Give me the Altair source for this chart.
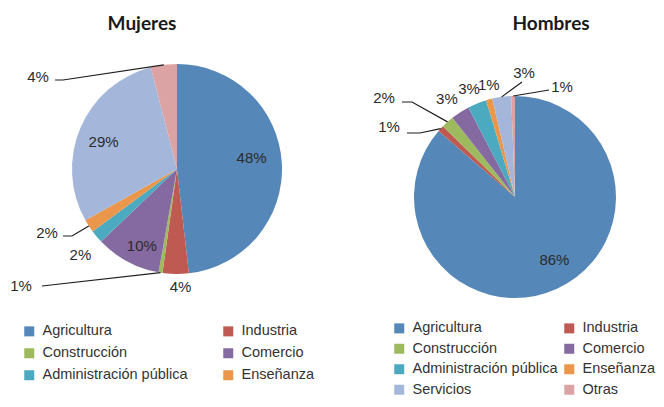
import math
import altair as alt
import pandas as pd

# ---------------- data ----------------
categories = ["Agricultura", "Industria", "Construcción", "Comercio",
              "Administración pública", "Enseñanza", "Servicios", "Otras"]
mujeres = [48, 4, 0.6, 10, 2, 2, 29, 4]
hombres = [86, 1, 2, 3, 3, 1, 3, 0.6]
titles = ["Mujeres", "Hombres"]
legend_mujeres = categories[:6]
legend_hombres = categories

colors = ["#5587B8", "#BE5A51", "#9DBB5E", "#8569A1",
          "#4BA9C0", "#EA974B", "#A4B7DA", "#DBA3A3"]

# ---------------- layout (pixels, chart space) ----------------
W, H = 648, 391
pies = {
    "Mujeres": dict(values=mujeres, cx=169, cy=161, R=105),
    "Hombres": dict(values=hombres, cx=507, cy=189, R=101),
}
# label placement per slice: ("r", radius factor, nudge x, nudge y)
# or ("p", label dx, label dy, [leader points relative to center])
label_layout = {
    "Mujeres": [
        ("r", 0.74, -3, -7),
        ("r", 1.12, 5, 0),
        ("p", -156, 117, [(-135, 117)]),
        ("r", 0.83, 6, 0),
        ("r", 1.24, 3, 2),
        ("p", -130, 64, [(-105, 67), (-114, 67)]),
        ("r", 0.76, 0, 4),
        ("p", -139, -92, [(-114, -89), (-122, -89)]),
    ],
    "Hombres": [
        ("r", 0.70, 10, -1),
        ("p", -126, -70, [(-95, -64), (-108, -64)]),
        ("p", -131, -99, [(-103, -95), (-113, -95)]),
        ("r", 1.15, -5, 0),
        ("r", 1.16, -2, 1),
        ("r", 1.17, 4, 2),
        ("p", 9, -124, [(7, -115)]),
        ("p", 47, -110, [(34, -107)]),
    ],
}
title_pos = {"Mujeres": (134, 22), "Hombres": (543, 22)}

FONT = "Liberation Sans"
TXT = "#2b2b2b"

color_scale = alt.Scale(domain=categories, range=colors)

layers = []
label_rows = []
leader_rows = []
legend_cfg = {
    "Mujeres": dict(values=legend_mujeres, x=14, y=316, colpad=33, rowpad=7),
    "Hombres": dict(values=legend_hombres, x=384, y=313, colpad=4, rowpad=5.5),
}

for name, p in pies.items():
    vals = p["values"]
    total = sum(vals)
    df = pd.DataFrame({"cat": categories, "v": vals, "idx": range(len(vals))})
    lc = legend_cfg[name]
    arc = alt.Chart(df).mark_arc(outerRadius=p["R"], stroke=None).encode(
        theta=alt.Theta("v:Q", stack=True),
        color=alt.Color(
            "cat:N", scale=color_scale, sort=categories,
            legend=alt.Legend(
                values=lc["values"], orient="none", legendX=lc["x"], legendY=lc["y"],
                direction="horizontal", columns=2, title=None,
                symbolType="square", symbolSize=100,
                symbolStrokeWidth=0, labelFont=FONT, labelFontSize=14.5,
                labelColor="#333333", labelOffset=6, labelLimit=300,
                columnPadding=lc["colpad"], rowPadding=lc["rowpad"], padding=0,
            ),
        ),
        order=alt.Order("idx:Q"),
        x=alt.value(p["cx"]),
        y=alt.value(p["cy"]),
    )
    layers.append(arc)

    cum = 0.0
    for i, v in enumerate(vals):
        mid = (cum + v / 2) / total * 2 * math.pi
        cum += v
        sx, sy = math.sin(mid), -math.cos(mid)
        lay = label_layout[name][i]
        text = f"{round(v)}%"
        if lay[0] == "r":
            _, rf, nx, ny = lay
            lx = p["cx"] + rf * p["R"] * sx + nx
            ly = p["cy"] + rf * p["R"] * sy + ny
        else:
            _, dx, dy, pts = lay
            lx = p["cx"] + dx
            ly = p["cy"] + dy
            lid = f"{name}-{i}"
            chain = [(p["cx"] + p["R"] * sx, p["cy"] + p["R"] * sy)] + \
                    [(p["cx"] + a, p["cy"] + b) for a, b in pts]
            for k, (qx, qy) in enumerate(chain):
                leader_rows.append({"lid": lid, "ord": k, "px": qx, "py": qy})
        label_rows.append({"t": text, "px": lx, "py": ly})

labels_df = pd.DataFrame(label_rows)
leaders_df = pd.DataFrame(leader_rows)
titles_df = pd.DataFrame({"t": titles,
                          "px": [title_pos[t][0] for t in titles],
                          "py": [title_pos[t][1] for t in titles]})

xs = lambda f: alt.X(f, scale=None, axis=None)
ys = lambda f: alt.Y(f, scale=None, axis=None)

leaders = alt.Chart(leaders_df).mark_line(color="#1e1e1e", strokeWidth=1.2).encode(
    x=xs("px:Q"), y=ys("py:Q"), detail="lid:N", order="ord:Q")

labels = alt.Chart(labels_df).mark_text(
    font=FONT, fontSize=15, color=TXT, align="center", baseline="middle"
).encode(x=xs("px:Q"), y=ys("py:Q"), text="t:N")

title_text = alt.Chart(titles_df).mark_text(
    font="Lato", fontSize=19, fontWeight="bold", color="#1a1a1a",
    align="center", baseline="alphabetic"
).encode(x=xs("px:Q"), y=ys("py:Q"), text="t:N")

chart = alt.layer(*layers, leaders, labels, title_text).resolve_scale(
    color="independent", theta="independent"
).properties(
    width=W, height=H, autosize=alt.AutoSizeParams(type="none"), padding=0
).configure_view(stroke=None)

chart.save("out.html", embed_options={"renderer": "svg", "actions": False})
